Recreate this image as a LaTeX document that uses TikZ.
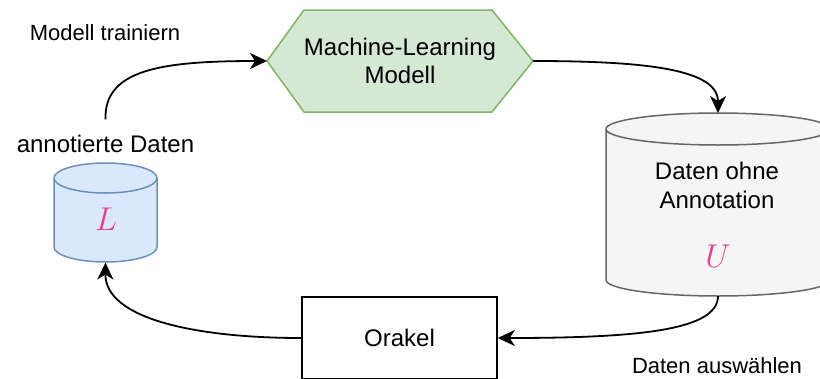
\RequirePackage{fix-cm}
\documentclass[tikz,border=0pt]{standalone}
\usepackage{fontspec}
\setmainfont{Liberation Sans}
\usetikzlibrary{arrows.meta}

\definecolor{mlfill}{HTML}{D5E8D4}
\definecolor{mldraw}{HTML}{82B366}
\definecolor{lfill}{HTML}{DAE8FC}
\definecolor{ldraw}{HTML}{6C8EBF}
\definecolor{ufill}{HTML}{F5F5F5}
\definecolor{udraw}{HTML}{666666}
\definecolor{setpink}{HTML}{E83E8C}

\begin{document}
\begin{tikzpicture}[x=1pt,y=-1pt,
  txt/.style={font=\fontsize{24}{28}\selectfont, inner sep=0pt, align=center},
  lbl/.style={font=\fontsize{22}{26}\selectfont, inner sep=0pt, anchor=base},
  setsym/.style={font=\fontsize{33}{33}\selectfont, text=setpink, inner sep=0pt},
  flow/.style={draw=black, line width=1.8pt, -{Stealth[length=17pt,width=16pt,inset=5pt]}},
  area/.style={inner sep=0pt, outer sep=0pt},
  rim/.style={line width=1.5pt}
]
\clip (0,0) rectangle (820,378);

% hexagon: the model
\filldraw[fill=mlfill, draw=mldraw, rim]
  (267,61) -- (304,10) -- (492,10) -- (533,61) -- (492,112) -- (304,112) -- cycle;
\node[area, txt, minimum width=266pt, minimum height=102pt] (ML) at (400,61) {Machine-Learning\\Modell};

% labelled data store L
\filldraw[fill=lfill, draw=ldraw, rim]
  (54,178) -- (54,247) arc[start angle=180, end angle=0, x radius=51.5, y radius=15]
  -- (157,178) arc[start angle=0, end angle=-180, x radius=51.5, y radius=15] -- cycle;
\draw[draw=ldraw, rim] (54,178) arc[start angle=180, end angle=0, x radius=51.5, y radius=15];
\node[area, minimum width=103pt, minimum height=100pt] (L) at (105.5,212.5) {};
\node[setsym] (Lsym) at (106,219) {$L$};
\node[lbl, font=\fontsize{24}{28}\selectfont] (annot) at (105.5,152) {annotierte Daten};

% unlabelled data store U
\filldraw[fill=ufill, draw=udraw, rim]
  (606,129) -- (606,280) arc[start angle=180, end angle=0, x radius=112, y radius=16]
  -- (830,129) arc[start angle=0, end angle=-180, x radius=112, y radius=16] -- cycle;
\draw[draw=udraw, rim] (606,129) arc[start angle=180, end angle=0, x radius=112, y radius=16];
\node[area, minimum width=224pt, minimum height=183pt] (U) at (718,204.5) {};
\node[txt, font=\fontsize{24}{29}\selectfont] (Utxt) at (717,185.75) {Daten ohne\\Annotation};
\node[setsym] (Usym) at (718,256) {$U$};

% oracle
\node[draw, line width=1.6pt, txt, minimum width=195pt, minimum height=82pt] (O) at (399.5,338) {Orakel};

% edge labels
\node[lbl] (train) at (105,40) {Modell trainiern};
\node[lbl] (pick) at (717,373) {Daten auswählen};

% the cycle
\draw[flow] ([yshift=15pt]annot.north) .. controls (104,70) and (160,61) .. (ML.west);
\draw[flow] (ML.east) .. controls (650,61) and (718,70) .. (U.north);
\draw[flow] (U.south) .. controls (718,330) and (640,338) .. (O.east);
\draw[flow] (O.west) .. controls (200,338) and (105,320) .. (L.south);
\end{tikzpicture}
\end{document}
